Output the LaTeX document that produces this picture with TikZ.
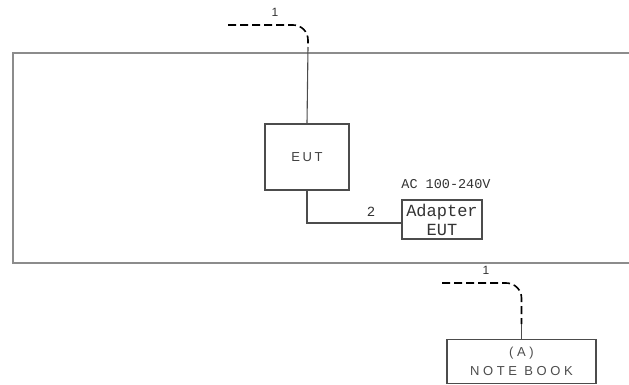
\documentclass[tikz,border=0pt]{standalone}
\usepackage{fontspec}
\setmainfont{Liberation Sans}
\newfontfamily\cadmono{Liberation Mono}
\newfontfamily\spsans[LetterSpace=20]{Liberation Sans}
\newfontfamily\spsanswide[LetterSpace=28]{Liberation Sans}
\begin{document}
\begin{tikzpicture}[x=1pt,y=-1pt,
  frame/.style={draw=black!45, line width=1.6pt},
  boxs/.style={draw=black!70, line width=1.1pt, rectangle, inner sep=0pt},
  wire/.style={draw=black!70, line width=1.1pt},
  cable/.style={draw=black, line width=1.6pt, dash pattern=on 8pt off 4pt},
  lbl/.style={text=black!80, inner sep=0pt}]
\useasboundingbox (0,0) rectangle (629,385);
% big table outline (open to the right)
\draw[frame] (629,53) -- (13,53) -- (13,263) -- (629,263);
% nodes
\node[boxs, minimum width=84pt, minimum height=66pt, font=\spsans\fontsize{13}{15}\selectfont, text=black!75] (eut) at (307,157) {EUT};
\node[boxs, minimum width=80pt, minimum height=39pt, align=center, font=\cadmono\fontsize{17}{19}\selectfont, text=black!80] (ad) at (442,219.5) {Adapter\\EUT};
\node[boxs, minimum width=149pt, minimum height=44pt, align=center, font=\spsanswide\fontsize{13}{19}\selectfont, text=black!70] (nb) at (521.5,361.5) {(A)\\NOTE BOOK};
% labels
\node[lbl, font=\fontsize{12}{14}\selectfont] (l1a) at (275,12) {1};
\node[lbl, font=\fontsize{12}{14}\selectfont] (l1b) at (486,270) {1};
\node[lbl, font=\cadmono\fontsize{14}{16}\selectfont] (l2) at (371,212) {2};
\node[lbl, font=\cadmono\fontsize{13.5}{15}\selectfont] (ac) at (446,184) {AC 100-240V};
% cable 1 to EUT
\coordinate (c1s) at (228,25);
\coordinate (c1e) at (308,47);
\draw[cable] (c1s) -- (293,25) to[out=0,in=90] (308,40) -- (c1e);
\draw[wire] (c1e) -- (eut.north);
% cable 2 EUT to adapter
\draw[wire] (eut.south) |- ([yshift=-3.5pt]ad.west);
% cable 1 to notebook
\coordinate (c2s) at (442,283);
\coordinate (c2e) at (521.5,324);
\draw[cable] (c2s) -- (506,283) to[out=0,in=90] (521.5,298) -- (c2e);
\draw[wire] (c2e) -- (nb.north);
\end{tikzpicture}
\end{document}
